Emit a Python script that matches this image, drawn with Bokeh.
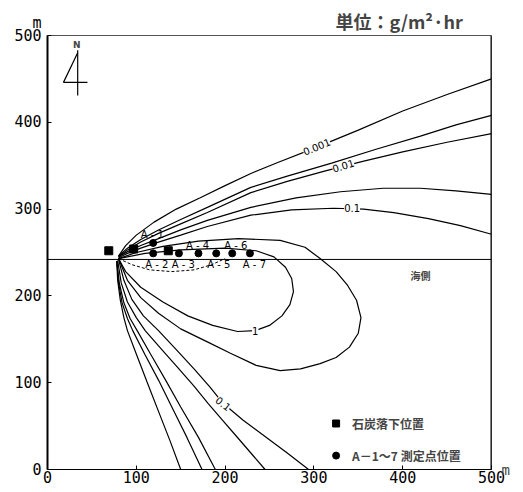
from bokeh.plotting import figure
from bokeh.models import Range1d, Label, Span, FixedTicker, LinearAxis
from bokeh.embed import file_html
from bokeh.resources import INLINE

# ---- contour lines (data units in m) ----
c0001_x = [80, 88, 100, 120, 145, 172, 200, 229, 260, 300, 350, 400, 450, 500]
c0001_y = [246, 258, 270, 285, 300, 313, 327, 341, 354, 370, 391, 413, 432, 450]

c0005_x = [80, 90, 105, 125, 150, 180, 229, 270, 320, 370, 420, 460, 500]
c0005_y = [246, 255, 265, 276, 288, 302, 325, 338, 353, 369, 384, 397, 408]

c001_x = [80, 90, 105, 125, 150, 180, 229, 270, 313, 355, 400, 450, 500]
c001_y = [245, 253, 262, 272, 283, 296, 319, 332, 344, 355, 366, 377, 387]

c005_x = [80, 90, 105, 125, 150, 180, 229, 280, 330, 378, 420, 460, 500]
c005_y = [245, 251, 258, 266, 276, 287, 302, 313, 320, 324, 324, 321, 317]

c01u_x = [80, 90, 105, 125, 150, 180, 229, 275, 322, 356, 390, 429, 465, 500]
c01u_y = [244, 249, 255, 262, 270, 280, 293, 299, 301, 300, 296, 289, 281, 271]

c05_x = [80, 100, 130, 170, 215, 262, 290, 307, 325, 338, 348, 353, 350, 340, 325,
         307, 285, 262, 235, 206, 180, 150, 125, 105, 90, 80]
c05_y = [243, 250, 257, 263, 266, 264, 256, 243, 228, 212, 195, 175, 157, 141, 129,
         122, 116, 114, 120, 134, 147, 162, 180, 198, 218, 243]

c1_x = [80, 110, 150, 200, 235, 255, 268, 275, 277, 273, 264, 250, 234, 214, 186,
        158, 130, 105, 88, 80]
c1_y = [243, 249, 253, 255, 252, 245, 233, 220, 205, 190, 177, 166, 160, 159, 166,
        177, 193, 210, 228, 243]

c5_x = [80, 95, 115, 140, 165, 185, 200]
c5_y = [243, 236, 230, 228, 230, 236, 243]

low1_x = [78, 79, 82, 86, 90, 100, 112, 125, 138, 150]
low1_y = [240, 218, 195, 175, 160, 133, 101, 67, 33, 0]
low2_x = [78, 80, 84, 90, 96, 110, 125, 140, 157, 174]
low2_y = [240, 215, 192, 174, 160, 132, 103, 72, 37, 0]
low3_x = [78, 81, 86, 93, 101, 116, 133, 150, 170, 189]
low3_y = [240, 214, 192, 174, 160, 133, 103, 72, 37, 0]
low4_x = [79, 83, 90, 100, 110, 128, 147, 165, 181, 197, 213, 229, 245]
low4_y = [241, 215, 193, 175, 160, 139, 117, 96, 76, 57, 38, 19, 0]
low5_x = [80, 86, 95, 108, 125, 145, 165, 183, 198, 220, 245, 270, 294]
low5_y = [242, 218, 196, 177, 160, 138, 116, 95, 76, 57, 38, 19, 0]

coast_y = 242

# coal drop positions and measuring points
coal_x = [69, 97, 136]
coal_y = [252, 254, 252]
pt_names = ["A - 1", "A - 2", "A - 3", "A - 4", "A - 5", "A - 6", "A - 7"]
pt_x = [119, 119, 148, 170, 190, 208, 228]
pt_y = [261, 249, 249, 249, 249, 249, 249]
pt_lab_x = [118, 123, 153, 169, 193, 212, 233]
pt_lab_y = [271, 236, 236, 258, 236, 258, 236]

# contour labels
clab_text = ["0.001", "0.01", "0.1", "1", "0.1"]
clab_x = [303, 333, 343, 234, 198]
clab_y = [372, 350, 301, 160, 76]
clab_ang = [0.40, 0.30, 0.0, 0.0, -0.66]

ticks = [0, 100, 200, 300, 400, 500]

p = figure(width=520, height=490, output_backend="svg", toolbar_location=None,
           x_range=Range1d(0, 500), y_range=Range1d(0, 500),
           min_border_left=47, min_border_right=29, min_border_top=35, min_border_bottom=21)
p.background_fill_color = "white"
p.border_fill_color = "white"
p.grid.visible = False
p.outline_line_color = "#555555"
p.outline_line_width = 1

p.title.text = "単位：g/m²·hr"
p.title.align = "left"
p.title.offset = 288
p.title.standoff = 4
p.title.text_font = "Noto Sans CJK JP"
p.title.text_font_size = "18px"
p.title.text_font_style = "bold"

for ax in (p.xaxis, p.yaxis):
    ax.ticker = FixedTicker(ticks=ticks)
    ax.major_tick_in = 4
    ax.major_tick_out = 0
    ax.minor_tick_line_color = None
    ax.major_label_text_font = "DejaVu Sans Mono"
    ax.major_label_text_font_size = "15px"
    ax.major_label_text_color = "black"
    ax.axis_line_color = "black"
p.yaxis.axis_line_width = 2
p.xaxis.axis_line_width = 1
p.xaxis.major_label_standoff = 1
p.yaxis.major_label_standoff = 6
# unit "m" written above the top label of the y axis
p.yaxis.major_label_overrides = {500: "m\n500\n\u00a0"}
p.yaxis.major_label_text_line_height = 0.7

# unit "m" of the x axis, at the right end of the bottom line
unit_ax = LinearAxis(ticker=FixedTicker(ticks=[0]), major_label_overrides={0: "m"},
                     axis_line_color=None, major_tick_line_color=None,
                     minor_tick_line_color=None, major_label_standoff=4,
                     major_label_text_font="DejaVu Sans Mono",
                     major_label_text_font_size="14px")
p.add_layout(unit_ax, "right")

p.add_layout(Span(location=500, dimension="height", line_color="black", line_width=2))
p.add_layout(Span(location=coast_y, dimension="width", line_color="black", line_width=1))

lw = 1.2
for xs, ys in [(c0001_x, c0001_y), (c0005_x, c0005_y), (c001_x, c001_y), (c005_x, c005_y),
               (c01u_x, c01u_y), (c05_x, c05_y), (c1_x, c1_y),
               (low1_x, low1_y), (low2_x, low2_y), (low3_x, low3_y), (low4_x, low4_y),
               (low5_x, low5_y)]:
    p.line(xs, ys, line_color="black", line_width=lw)
p.line(c5_x, c5_y, line_color="black", line_width=1, line_dash="3 2")

for t, x, y, a in zip(clab_text, clab_x, clab_y, clab_ang):
    p.add_layout(Label(x=x, y=y, text=t, angle=a, text_align="center", text_baseline="middle",
                       text_font="DejaVu Sans", text_font_size="10px", text_color="black",
                       background_fill_color="white"))

p.scatter(coal_x, coal_y, marker="square", size=8, color="black")
p.scatter(pt_x, pt_y, marker="circle", size=7, color="black")
for t, x, y in zip(pt_names, pt_lab_x, pt_lab_y):
    p.add_layout(Label(x=x, y=y, text=t, text_align="center", text_baseline="middle",
                       text_font="DejaVu Sans", text_font_size="10px", text_color="black"))

# legend
p.scatter([325], [53], marker="square", size=7, color="black")
p.scatter([325], [16], marker="circle", size=7, color="black")
p.add_layout(Label(x=343, y=53, text="石炭落下位置", text_align="left", text_baseline="middle",
                   text_font="Noto Sans CJK JP", text_font_size="12px", text_font_style="bold"))
p.add_layout(Label(x=343, y=16, text="A－1～7  測定点位置", text_align="left", text_baseline="middle",
                   text_font="Noto Sans CJK JP", text_font_size="12px", text_font_style="bold"))

p.add_layout(Label(x=420, y=223, text="海側", text_align="center", text_baseline="middle",
                   text_font="Noto Sans CJK JP", text_font_size="10px", text_font_style="bold"))

# north arrow
p.line([34, 34], [431, 483], line_color="black", line_width=1.2)
p.line([34, 18, 45], [480, 446, 446], line_color="black", line_width=1.2)
p.add_layout(Label(x=33, y=489, text="N", text_align="center", text_baseline="middle",
                   text_font="DejaVu Sans", text_font_size="9px", text_font_style="bold"))

open("out.html", "w").write(file_html(p, INLINE))
